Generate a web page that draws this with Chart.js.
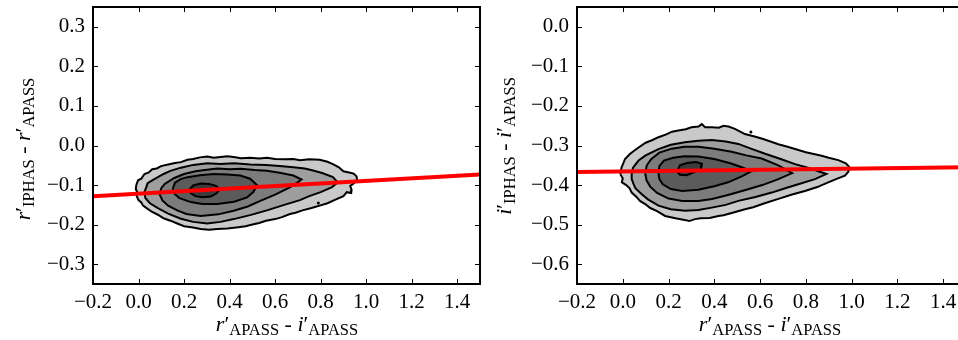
<!DOCTYPE html>
<html>
<head>
<meta charset="utf-8">
<script src="https://cdn.jsdelivr.net/npm/chart.js@4.4.0/dist/chart.umd.min.js"></script>
<style>
  html, body { margin: 0; padding: 0; background: #fff; }
  body { width: 958px; height: 340px; overflow: hidden; position: relative; }
  canvas { position: absolute; top: 0; }
  #left { left: 0; }
  #right { left: 490px; }
</style>
</head>
<body>
<canvas id="left" width="484" height="340"></canvas>
<canvas id="right" width="490" height="340"></canvas>
<script>
// tick values
var xTicks = [-0.2, 0.0, 0.2, 0.4, 0.6, 0.8, 1.0, 1.2, 1.4];
var yTicksLeft = [-0.3, -0.2, -0.1, 0.0, 0.1, 0.2, 0.3];
var yTicksRight = [-0.6, -0.5, -0.4, -0.3, -0.2, -0.1, 0.0];

// density contours, outer level first (x = r'-i', y = offset)
var leftL1 = [[-0.010,-0.100],[-0.002,-0.088],[0.012,-0.084],[0.026,-0.072],[0.045,-0.068],[0.060,-0.060],[0.080,-0.058],[0.099,-0.052],[0.130,-0.048],[0.160,-0.044],[0.186,-0.042],[0.215,-0.036],[0.240,-0.034],[0.270,-0.030],[0.302,-0.028],[0.330,-0.031],[0.360,-0.029],[0.390,-0.027],[0.418,-0.029],[0.450,-0.032],[0.490,-0.031],[0.530,-0.033],[0.564,-0.031],[0.600,-0.034],[0.640,-0.035],[0.680,-0.034],[0.709,-0.037],[0.750,-0.035],[0.796,-0.036],[0.830,-0.041],[0.854,-0.047],[0.880,-0.055],[0.900,-0.065],[0.925,-0.068],[0.945,-0.071],[0.958,-0.078],[0.960,-0.088],[0.945,-0.096],[0.930,-0.102],[0.936,-0.112],[0.934,-0.120],[0.915,-0.118],[0.900,-0.128],[0.860,-0.138],[0.830,-0.146],[0.796,-0.152],[0.760,-0.158],[0.720,-0.164],[0.690,-0.170],[0.665,-0.173],[0.630,-0.181],[0.600,-0.186],[0.560,-0.190],[0.530,-0.196],[0.505,-0.199],[0.470,-0.204],[0.430,-0.207],[0.390,-0.210],[0.346,-0.211],[0.310,-0.213],[0.273,-0.211],[0.240,-0.207],[0.200,-0.204],[0.170,-0.197],[0.140,-0.190],[0.110,-0.184],[0.085,-0.175],[0.060,-0.168],[0.040,-0.160],[0.020,-0.152],[0.012,-0.144],[0.000,-0.138],[-0.008,-0.128],[-0.004,-0.120],[-0.012,-0.110],[-0.010,-0.100]];
var leftL2 = [[0.026,-0.118],[0.034,-0.105],[0.040,-0.095],[0.060,-0.088],[0.085,-0.080],[0.110,-0.072],[0.140,-0.064],[0.186,-0.056],[0.240,-0.049],[0.302,-0.045],[0.360,-0.047],[0.420,-0.045],[0.491,-0.048],[0.560,-0.049],[0.620,-0.052],[0.680,-0.055],[0.730,-0.058],[0.767,-0.063],[0.810,-0.070],[0.854,-0.080],[0.875,-0.093],[0.850,-0.105],[0.800,-0.118],[0.750,-0.128],[0.709,-0.138],[0.640,-0.150],[0.564,-0.164],[0.490,-0.176],[0.418,-0.186],[0.360,-0.193],[0.302,-0.197],[0.240,-0.193],[0.186,-0.185],[0.130,-0.172],[0.085,-0.158],[0.050,-0.146],[0.030,-0.133],[0.026,-0.118]];
var leftL3 = [[0.092,-0.123],[0.100,-0.108],[0.115,-0.097],[0.157,-0.082],[0.200,-0.072],[0.250,-0.065],[0.300,-0.061],[0.346,-0.058],[0.400,-0.060],[0.450,-0.059],[0.510,-0.062],[0.564,-0.064],[0.620,-0.069],[0.680,-0.076],[0.716,-0.086],[0.690,-0.097],[0.660,-0.107],[0.600,-0.124],[0.535,-0.140],[0.480,-0.154],[0.418,-0.165],[0.350,-0.174],[0.273,-0.178],[0.210,-0.173],[0.170,-0.164],[0.130,-0.152],[0.105,-0.139],[0.092,-0.123]];
var leftL4 = [[0.150,-0.110],[0.160,-0.094],[0.185,-0.085],[0.215,-0.080],[0.270,-0.075],[0.331,-0.072],[0.390,-0.073],[0.447,-0.076],[0.490,-0.084],[0.520,-0.100],[0.505,-0.117],[0.477,-0.131],[0.420,-0.142],[0.346,-0.148],[0.280,-0.148],[0.230,-0.143],[0.180,-0.133],[0.158,-0.122],[0.150,-0.110]];
var leftL5 = [[0.222,-0.112],[0.240,-0.101],[0.273,-0.096],[0.310,-0.097],[0.340,-0.102],[0.358,-0.111],[0.340,-0.122],[0.317,-0.129],[0.280,-0.131],[0.250,-0.128],[0.230,-0.121],[0.222,-0.112]];
var leftDots = [[0.790,-0.145]];

var rightL1 = [[-0.011,-0.372],[-0.005,-0.355],[0.010,-0.334],[0.030,-0.322],[0.045,-0.315],[0.069,-0.305],[0.100,-0.293],[0.130,-0.286],[0.156,-0.279],[0.190,-0.272],[0.215,-0.265],[0.243,-0.262],[0.275,-0.259],[0.300,-0.254],[0.331,-0.252],[0.345,-0.246],[0.360,-0.254],[0.389,-0.254],[0.420,-0.255],[0.440,-0.250],[0.462,-0.252],[0.490,-0.258],[0.534,-0.271],[0.580,-0.278],[0.610,-0.283],[0.636,-0.288],[0.680,-0.297],[0.720,-0.303],[0.753,-0.309],[0.800,-0.317],[0.840,-0.322],[0.869,-0.326],[0.900,-0.331],[0.942,-0.337],[0.975,-0.345],[0.993,-0.356],[0.985,-0.367],[0.971,-0.376],[0.940,-0.383],[0.898,-0.393],[0.850,-0.405],[0.796,-0.415],[0.740,-0.424],[0.680,-0.435],[0.620,-0.446],[0.570,-0.456],[0.534,-0.461],[0.480,-0.470],[0.440,-0.476],[0.418,-0.478],[0.380,-0.483],[0.340,-0.484],[0.316,-0.486],[0.290,-0.491],[0.270,-0.488],[0.230,-0.484],[0.185,-0.478],[0.150,-0.466],[0.120,-0.458],[0.098,-0.448],[0.075,-0.440],[0.060,-0.430],[0.039,-0.419],[0.030,-0.408],[0.015,-0.400],[-0.004,-0.393],[0.000,-0.383],[-0.011,-0.372]];
var rightL2 = [[0.039,-0.372],[0.045,-0.356],[0.069,-0.338],[0.100,-0.325],[0.156,-0.309],[0.210,-0.298],[0.272,-0.292],[0.330,-0.288],[0.389,-0.286],[0.450,-0.290],[0.505,-0.296],[0.560,-0.308],[0.622,-0.321],[0.690,-0.334],[0.753,-0.347],[0.820,-0.358],[0.890,-0.372],[0.840,-0.385],[0.767,-0.398],[0.710,-0.408],[0.651,-0.419],[0.580,-0.430],[0.505,-0.440],[0.450,-0.450],[0.389,-0.457],[0.330,-0.463],[0.272,-0.465],[0.210,-0.461],[0.156,-0.452],[0.110,-0.436],[0.083,-0.423],[0.055,-0.408],[0.047,-0.397],[0.039,-0.385],[0.039,-0.372]];
var rightL3 = [[0.098,-0.370],[0.105,-0.350],[0.125,-0.334],[0.160,-0.318],[0.214,-0.308],[0.270,-0.303],[0.331,-0.303],[0.400,-0.308],[0.476,-0.316],[0.540,-0.325],[0.607,-0.333],[0.680,-0.350],[0.740,-0.370],[0.680,-0.385],[0.610,-0.400],[0.540,-0.412],[0.460,-0.425],[0.390,-0.435],[0.330,-0.440],[0.260,-0.440],[0.200,-0.434],[0.150,-0.420],[0.120,-0.404],[0.104,-0.388],[0.098,-0.370]];
var rightL4 = [[0.156,-0.370],[0.160,-0.352],[0.180,-0.338],[0.220,-0.331],[0.270,-0.327],[0.330,-0.328],[0.400,-0.334],[0.470,-0.345],[0.520,-0.355],[0.563,-0.365],[0.520,-0.378],[0.460,-0.393],[0.400,-0.403],[0.330,-0.412],[0.260,-0.415],[0.210,-0.410],[0.175,-0.398],[0.160,-0.385],[0.156,-0.370]];
var rightL5 = [[0.237,-0.366],[0.250,-0.350],[0.280,-0.344],[0.320,-0.342],[0.346,-0.346],[0.342,-0.360],[0.310,-0.368],[0.280,-0.375],[0.250,-0.374],[0.237,-0.366]];
var rightDots = [[0.560,-0.266]];

// fitted lines, end points
var fitLeftX = [-0.2, 1.5];
var fitLeftY = [-0.128, -0.073];
var fitRightX = [-0.2, 1.5];
var fitRightY = [-0.367, -0.355];

var levelColors = ['#c9c9c9', '#9e9e9e', '#7c7c7c', '#5b5b5b', '#3c3c3c'];

function fmt(v) {
  var s = Math.abs(v).toFixed(1);
  return (v < -1e-9 ? '\u2212' : '') + s;
}

function pts(arr) {
  return arr.map(function(p) { return {x: p[0], y: p[1]}; });
}

function ring(arr, i) {
  return {
    data: pts(arr),
    borderColor: '#000',
    borderWidth: 2,
    backgroundColor: levelColors[i],
    fill: 'shape',
    pointRadius: 0,
    tension: 0,
    order: 10 - i
  };
}

var serif = '"Liberation Serif", "DejaVu Serif", serif';

function drawRich(ctx, parts, cx, cy, rot) {
  var total = 0;
  parts.forEach(function(p) {
    ctx.font = (p.i ? 'italic ' : '') + p.s + 'px ' + serif;
    p.w = ctx.measureText(p.t).width;
    total += p.w;
  });
  ctx.save();
  ctx.translate(cx, cy);
  ctx.rotate(rot);
  ctx.fillStyle = '#000';
  ctx.textBaseline = 'alphabetic';
  ctx.textAlign = 'left';
  var x = -total / 2;
  parts.forEach(function(p) {
    ctx.font = (p.i ? 'italic ' : '') + p.s + 'px ' + serif;
    ctx.fillText(p.t, x, p.dy || 0);
    x += p.w;
  });
  ctx.restore();
}

function label(a, b, c, d) {
  return [
    {t: a, i: 1, s: 22}, {t: '\u2032', s: 22}, {t: b, s: 16.5, dy: 4},
    {t: ' - ', s: 22},
    {t: c, i: 1, s: 22}, {t: '\u2032', s: 22}, {t: d, s: 16.5, dy: 4}
  ];
}

var framePlugin = {
  id: 'frame',
  afterDraw: function(chart, args, opts) {
    var ctx = chart.ctx, a = chart.chartArea;
    var xs = chart.scales.x, ys = chart.scales.y;
    ctx.save();
    ctx.strokeStyle = '#000';
    ctx.lineWidth = 1;
    xs.ticks.forEach(function(t) {
      var px = Math.round(xs.getPixelForValue(t.value)) + 0.5;
      ctx.beginPath();
      ctx.moveTo(px, a.bottom); ctx.lineTo(px, a.bottom - 5);
      ctx.moveTo(px, a.top); ctx.lineTo(px, a.top + 5);
      ctx.stroke();
    });
    ys.ticks.forEach(function(t) {
      var py = Math.round(ys.getPixelForValue(t.value)) + 0.5;
      ctx.beginPath();
      ctx.moveTo(a.left, py); ctx.lineTo(a.left + 5, py);
      ctx.moveTo(a.right, py); ctx.lineTo(a.right - 5, py);
      ctx.stroke();
    });
    ctx.lineWidth = 2;
    ctx.strokeRect(a.left, a.top, a.right - a.left, a.bottom - a.top);
    ctx.restore();
    drawRich(ctx, opts.xTitle, opts.xTitlePos[0], opts.xTitlePos[1], 0);
    drawRich(ctx, opts.yTitle, opts.yTitlePos[0], opts.yTitlePos[1], -Math.PI / 2);
  }
};

function makeChart(id, rings, dots, fitX, fitY, yMin, yMax, yTicks, cfg) {
  var datasets = rings.map(ring);
  datasets.push({
    data: pts(dots), showLine: false, pointRadius: 1.5,
    pointBackgroundColor: '#000', pointBorderWidth: 0, order: 3
  });
  datasets.push({
    data: [{x: fitX[0], y: fitY[0]}, {x: fitX[1], y: fitY[1]}],
    borderColor: '#ff0000', borderWidth: 4, pointRadius: 0, fill: false, order: 0
  });
  return new Chart(document.getElementById(id), {
    type: 'line',
    data: {datasets: datasets},
    plugins: [framePlugin],
    options: {
      responsive: false,
      animation: false,
      layout: {padding: {left: 0, right: cfg.padRight, top: 7, bottom: 0}},
      plugins: {
        legend: {display: false},
        tooltip: {enabled: false},
        filler: {drawTime: 'beforeDatasetDraw'},
        frame: cfg.frame
      },
      scales: {
        x: {
          type: 'linear', min: -0.2, max: 1.5,
          grid: {display: false, drawTicks: false},
          border: {display: false},
          afterFit: function(s) {
            s.height = 56;
            s.paddingLeft = 0; s.paddingRight = 0;
          },
          afterBuildTicks: function(s) { s.ticks = xTicks.map(function(v) { return {value: v}; }); },
          ticks: {
            padding: 6, color: '#000', maxRotation: 0, autoSkip: false,
            font: {family: serif, size: 21},
            callback: function(v) { return fmt(v); }
          }
        },
        y: {
          type: 'linear', min: yMin, max: yMax,
          grid: {display: false, drawTicks: false},
          border: {display: false},
          afterFit: function(s) {
            s.width = cfg.yWidth;
            s.paddingTop = 0; s.paddingBottom = 0;
          },
          afterBuildTicks: function(s) { s.ticks = yTicks.map(function(v) { return {value: v}; }); },
          ticks: {
            padding: 8, color: '#000', autoSkip: false,
            font: {family: serif, size: 21},
            callback: function(v) { return fmt(v); }
          }
        }
      }
    }
  });
}

makeChart('left', [leftL1, leftL2, leftL3, leftL4, leftL5], leftDots,
  fitLeftX, fitLeftY, -0.35, 0.35, yTicksLeft, {
    padRight: 3, yWidth: 93,
    frame: {
      xTitle: label('r', 'APASS', 'i', 'APASS'), xTitlePos: [287, 331],
      yTitle: label('r', 'IPHAS', 'r', 'APASS'), yTitlePos: [30, 149]
    }
  });

makeChart('right', [rightL1, rightL2, rightL3, rightL4, rightL5], rightDots,
  fitRightX, fitRightY, -0.65, 0.05, yTicksRight, {
    padRight: 14, yWidth: 87,
    frame: {
      xTitle: label('r', 'APASS', 'i', 'APASS'), xTitlePos: [280, 331],
      yTitle: label('i', 'IPHAS', 'i', 'APASS'), yTitlePos: [21, 146]
    }
  });
</script>
</body>
</html>
